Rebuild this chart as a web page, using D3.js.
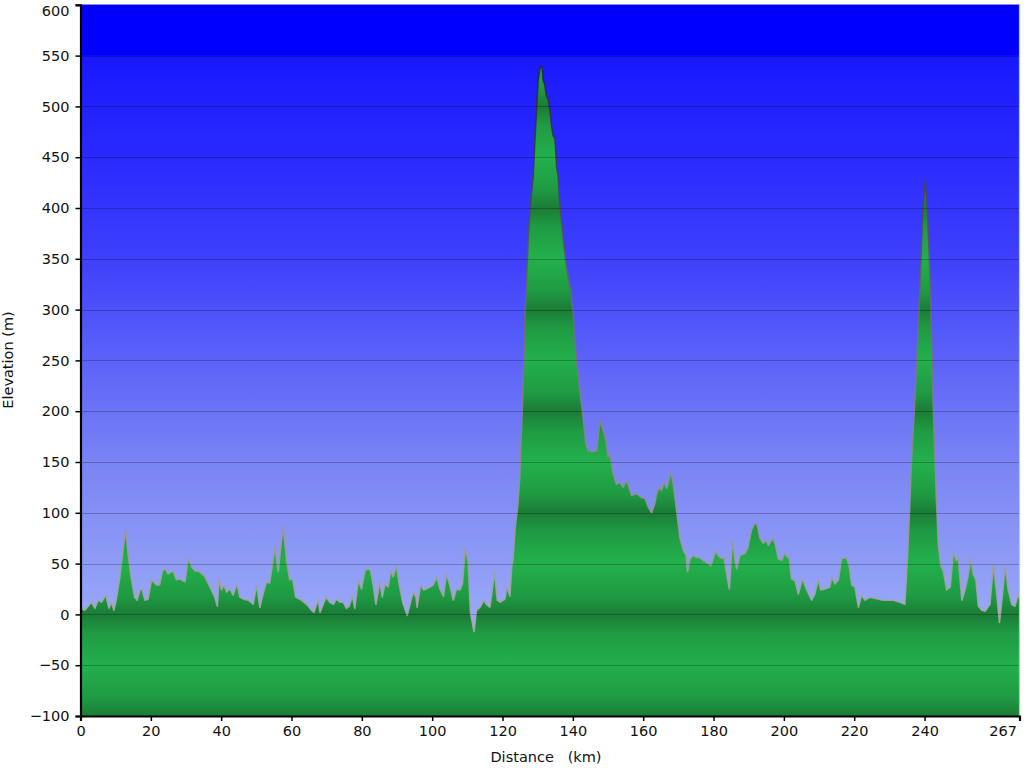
<!DOCTYPE html>
<html>
<head>
<meta charset="utf-8">
<script src="https://cdn.jsdelivr.net/npm/d3@7"></script>
<style>
  html, body { margin: 0; padding: 0; background: #ffffff; }
  svg { display: block; }
  text { font-family: "DejaVu Sans", Verdana, sans-serif; }
</style>
</head>
<body>
<svg id="chart" width="1024" height="768"></svg>
<script>
// ---- Data (distance in km, elevation in m) ----
const distances = [
  0, 0.3, 1.2, 3.1, 4.1, 5.0, 6.0, 7.2, 8.1, 8.8, 9.5, 10.2, 11.2, 12.1, 12.8, 13.5, 14.5, 15.4, 16.1, 16.9,
  17.5, 18.3, 19.2, 20.2, 20.8, 21.6, 22.5, 23.3, 24.0, 24.9, 25.9, 26.3, 27.3, 28.2, 29.7, 30.6, 31.6, 32.5, 33.9, 35.4,
  36.8, 38.2, 38.9, 39.4, 40.1, 40.8, 41.5, 42.5, 43.4, 44.5, 45.3, 46.4, 47.7, 49.1, 50.1, 51.0, 51.9, 52.9, 53.8, 55.3,
  56.2, 57.6, 58.6, 59.5, 60.3, 61.2, 62.4, 64.3, 65.7, 66.4, 67.6, 68.1, 69.8, 70.9, 71.9, 72.8, 73.8, 74.7, 75.6, 76.4,
  77.3, 78.0, 79.0, 79.9, 80.9, 81.8, 82.5, 83.2, 84.0, 85.1, 85.8, 86.6, 87.5, 88.2, 88.9, 89.9, 90.6, 91.6, 92.9, 93.7,
  94.6, 95.4, 95.7, 96.7, 97.6, 98.9, 100.3, 101.3, 102.2, 103.2, 104.1, 105.0, 106.0, 106.9, 107.9, 108.6, 109.4, 110.2, 110.9, 111.9,
  112.6, 113.6, 114.7, 115.4, 116.4, 117.2, 117.7, 118.5, 119.3, 120.7, 121.3, 122.1, 122.6, 123.0, 123.6, 124.3, 124.9, 125.4, 125.9, 126.4,
  126.8, 127.3, 127.8, 128.3, 128.7, 129.2, 129.7, 130.1, 130.6, 131.1, 131.3, 131.6, 132.0, 132.5, 133.0, 133.5, 133.9, 134.4, 134.9, 135.4,
  135.8, 136.3, 137.3, 138.2, 139.2, 139.5, 139.7, 140.1, 141.1, 142.0, 143.0, 143.7, 144.4, 145.6, 146.8, 147.7, 148.6, 149.4, 150.0, 150.5,
  151.5, 152.4, 153.4, 154.3, 155.3, 156.7, 158.1, 159.5, 160.5, 161.4, 162.4, 163.3, 163.8, 164.6, 165.2, 165.9, 166.7, 167.3, 167.9, 168.5,
  169.5, 170.4, 171.4, 172.2, 172.6, 173.3, 174.2, 175.2, 176.1, 177.1, 178.5, 179.2, 179.9, 180.7, 181.3, 182.3, 183.0, 183.7, 184.5, 184.9,
  185.4, 186.1, 186.6, 187.5, 188.9, 189.7, 190.8, 191.8, 192.4, 193.2, 194.1, 194.9, 195.6, 196.8, 197.5, 198.4, 199.4, 200.3, 201.0, 201.5,
  202.2, 203.2, 204.1, 205.3, 206.5, 207.9, 208.8, 209.8, 210.5, 211.7, 213.1, 213.6, 214.5, 215.5, 216.4, 217.8, 218.6, 219.3, 220.2, 221.2,
  222.1, 223.1, 224.5, 228.3, 231.1, 233.0, 234.4, 235.1, 235.7, 236.3, 237.1, 237.8, 238.5, 239.2, 239.6, 240.2, 240.8, 241.4, 241.8, 242.5,
  243.3, 243.9, 244.6, 245.3, 246.3, 247.3, 248.2, 249.0, 249.6, 250.6, 251.5, 252.5, 253.1, 253.9, 254.6, 255.3, 256.3, 257.2, 258.6, 259.6,
  260.5, 261.3, 262.2, 262.9, 263.8, 264.8, 265.7, 266.7, 267
];
const elevations = [
  4, 6, 4, 12, 6, 14, 12, 19, 6, 12, 4, 15, 37, 63, 84, 60, 34, 17, 14, 24,
  25, 14, 15, 34, 32, 29, 29, 43, 45, 40, 42, 43, 34, 35, 32, 55, 47, 43, 42, 37,
  27, 17, 8, 35, 24, 29, 22, 25, 19, 30, 17, 15, 14, 10, 29, 7, 20, 32, 31, 66,
  42, 86, 53, 34, 35, 17, 15, 10, 4, 2, 15, 2, 17, 12, 10, 15, 12, 12, 6, 8,
  18, 6, 34, 25, 43, 45, 43, 29, 10, 32, 17, 30, 27, 43, 37, 48, 30, 12, -1, 10,
  22, 17, 7, 29, 24, 26, 29, 37, 25, 18, 40, 29, 14, 25, 24, 30, 65, 52, 1, -17,
  4, 7, 14, 10, 7, 27, 43, 14, 12, 15, 27, 18, 46, 55, 85, 105, 135, 181, 230, 296,
  325, 368, 397, 417, 430, 466, 499, 525, 537, 540, 537, 525, 522, 510, 507, 496, 482, 471, 469, 440,
  432, 404, 368, 342, 322, 322, 305, 296, 247, 220, 191, 168, 161, 160, 161, 191, 181, 171, 155, 158,
  138, 128, 130, 125, 132, 117, 119, 115, 114, 106, 100, 109, 119, 125, 122, 130, 124, 132, 140, 129,
  102, 76, 63, 58, 42, 55, 58, 56, 56, 53, 50, 48, 55, 63, 58, 55, 56, 40, 25, 47,
  73, 53, 45, 58, 60, 65, 83, 90, 88, 75, 70, 73, 68, 75, 70, 55, 53, 61, 56, 56,
  35, 33, 20, 35, 24, 14, 20, 35, 24, 25, 27, 37, 30, 34, 55, 56, 47, 29, 27, 7,
  19, 14, 17, 14, 14, 12, 10, 53, 99, 152, 201, 250, 306, 368, 401, 427, 397, 348, 299, 201,
  119, 69, 48, 43, 24, 27, 61, 53, 55, 14, 24, 40, 55, 39, 34, 8, 4, 3, 10, 50,
  21, -8, 21, 48, 24, 10, 8, 21, 15
];
const xTickValues = [0, 20, 40, 60, 80, 100, 120, 140, 160, 180, 200, 220, 240, 267];
const yTickValues = [-100, -50, 0, 50, 100, 150, 200, 250, 300, 350, 400, 450, 500, 550, 600];
const xTitle = "Distance   (km)";
const yTitle = "Elevation (m)";

const data = distances.map((d, i) => ({ d, e: elevations[i] }));

const svg = d3.select("#chart");
const x = d3.scaleLinear().domain([0, 267]).range([80.5, 1019.5]);
const y = d3.scaleLinear().domain([-100, 600]).range([716, 4.8]);

const defs = svg.append("defs");
const off = v => (y(v) - y(600)) / (y(-100) - y(600));

// Sky gradient
const sky = defs.append("linearGradient")
  .attr("id", "sky").attr("gradientUnits", "userSpaceOnUse")
  .attr("x1", 0).attr("x2", 0).attr("y1", y(600)).attr("y2", y(-100));
const skyStops = [
  [600, "#0000ff"], [550.5, "#0000ff"], [549.5, "#1818ff"], [450, "#2a2afe"], [350, "#3e40fc"],
  [250, "#5c62f8"], [150, "#7a84f4"], [50, "#8e9cf6"], [0, "#98a8f8"], [-100, "#a8b8fa"]
];
skyStops.forEach(([v, c]) => sky.append("stop").attr("offset", off(v)).attr("stop-color", c));

// Green banded fill gradient
const green = defs.append("linearGradient")
  .attr("id", "green").attr("gradientUnits", "userSpaceOnUse")
  .attr("x1", 0).attr("x2", 0).attr("y1", y(600)).attr("y2", y(-100));
const dark = "#1b7c36", mid = "#1f9a43", light = "#23b04c";
const gStops = [];
for (let v = 600; v >= -100; v -= 50) {
  const isDark = (Math.round(v) % 100 === 0);
  gStops.push([v, isDark ? dark : light]);
  if (isDark) {
    if (v + 18 <= 600) gStops.push([v + 18, mid]);
    if (v - 18 >= -100) gStops.push([v - 18, mid]);
  }
}
gStops.sort((a, b) => b[0] - a[0])
  .forEach(([v, c]) => green.append("stop").attr("offset", off(v)).attr("stop-color", c));

// Outline gradient (darker near top)
const edge = defs.append("linearGradient")
  .attr("id", "edge").attr("gradientUnits", "userSpaceOnUse")
  .attr("x1", 0).attr("x2", 0).attr("y1", y(600)).attr("y2", y(-100));
[[600, "#1a1a22"], [450, "#3a3a48"], [300, "#6a6a78"], [150, "#8c8c94"], [0, "#a8a8ac"], [-100, "#b0b0b0"]]
  .forEach(([v, c]) => edge.append("stop").attr("offset", off(v)).attr("stop-color", c));

// Background
svg.append("rect")
  .attr("x", x(0)).attr("y", y(600))
  .attr("width", x(267) - x(0)).attr("height", y(-100) - y(600))
  .attr("fill", "url(#sky)");

// Area
const area = d3.area().x(p => x(p.d)).y0(y(-100)).y1(p => y(p.e));
svg.append("path").datum(data).attr("d", area).attr("fill", "url(#green)");

const line = d3.line().x(p => x(p.d)).y(p => y(p.e));
svg.append("path").datum(data).attr("d", line)
  .attr("fill", "none").attr("stroke", "url(#edge)").attr("stroke-width", 1.6)
  .attr("stroke-linejoin", "round").attr("stroke-opacity", 0.9);

// Gridlines
svg.append("g").selectAll("line").data(yTickValues.filter(v => v > -100 && v < 600)).join("line")
  .attr("x1", x(0)).attr("x2", x(267))
  .attr("y1", v => Math.round(y(v)) + 0.5).attr("y2", v => Math.round(y(v)) + 0.5)
  .attr("stroke", "#000").attr("stroke-opacity", 0.24).attr("stroke-width", 1);

// Top border and right edge lines
svg.append("line").attr("x1", x(0)).attr("x2", x(267)).attr("y1", 4.5).attr("y2", 4.5)
  .attr("stroke", "#8c8cff").attr("stroke-width", 1);
svg.append("line").attr("x1", 1019.5).attr("x2", 1019.5).attr("y1", 4.5).attr("y2", 716)
  .attr("stroke", "#9adcae").attr("stroke-width", 1.2);

// Axes
const xAxis = d3.axisBottom(x).tickValues(xTickValues).tickFormat(d3.format("d"))
  .tickSize(5).tickPadding(5);
const yAxis = d3.axisLeft(y).tickValues(yTickValues).tickFormat(d3.format("d"))
  .tickSize(5).tickPadding(6);

const gx = svg.append("g").attr("transform", `translate(0,${y(-100)})`).call(xAxis);
const gy = svg.append("g").attr("transform", `translate(${x(0)},0)`).call(yAxis);
[gx, gy].forEach(g => {
  g.select(".domain").attr("stroke", "#000").attr("stroke-width", 2.2);
  g.selectAll(".tick line").attr("stroke", "#000").attr("stroke-width", 1.5);
  g.selectAll(".tick text").attr("fill", "#111").style("font-size", "14.5px")
    .style("font-family", '"DejaVu Sans", Verdana, sans-serif');
});
// keep the end labels inside the picture
gx.selectAll(".tick").filter(d => d === 267).select("text")
  .attr("text-anchor", "end").attr("x", -3);
gy.selectAll(".tick").filter(d => d === 600).select("text")
  .attr("dy", "0.75em");

// Titles
svg.append("text").attr("x", 546).attr("y", 762).attr("text-anchor", "middle")
  .style("font-size", "14.5px").style("white-space", "pre").attr("fill", "#111").text(xTitle);
svg.append("text").attr("transform", "translate(13,360) rotate(-90)").attr("text-anchor", "middle")
  .style("font-size", "14.5px").attr("fill", "#111").text(yTitle);
</script>
</body>
</html>
